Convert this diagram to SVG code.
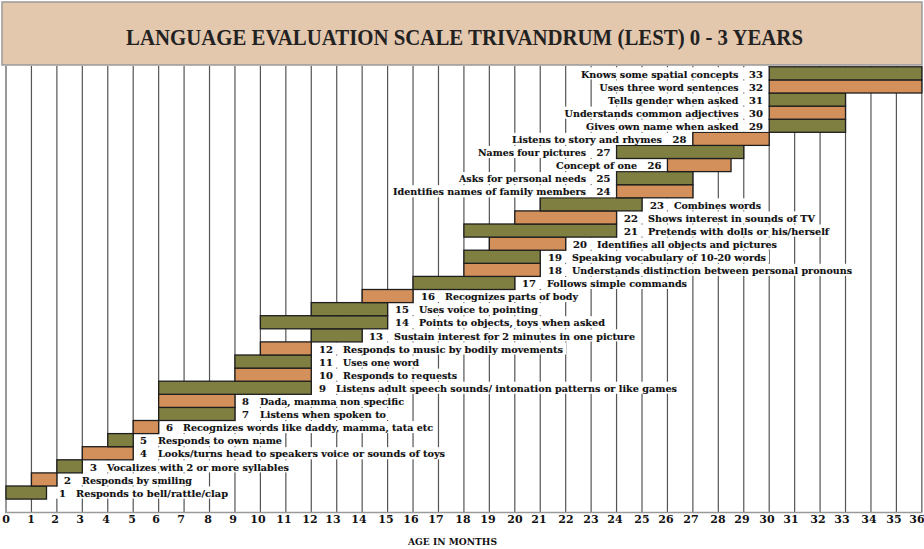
<svg xmlns="http://www.w3.org/2000/svg" width="924" height="549" viewBox="0 0 924 549">
<style>
.bg{fill:#ffffff}
.g{fill:#807f42;stroke:#1e1e1e;stroke-width:1.3}
.o{fill:#d4905a;stroke:#1e1e1e;stroke-width:1.3}
.grid line{stroke:#555555;stroke-width:1.2}
.lb{font-family:"DejaVu Serif",serif;font-weight:bold;font-size:10px;fill:#111;stroke:#111;stroke-width:0.15}
.n{font-family:"DejaVu Serif",serif;font-weight:bold;font-size:10px;fill:#111;stroke:#111;stroke-width:0.15}
.nl{font-family:"DejaVu Serif",serif;font-weight:bold;font-size:10px;fill:#111;stroke:#111;stroke-width:0.15;text-anchor:end}
.tk{font-family:"DejaVu Serif",serif;font-weight:bold;font-size:11px;fill:#111;text-anchor:middle}
.ttl{font-family:"Liberation Serif",serif;font-weight:bold;font-size:23px;fill:#222}
</style>
<rect width="924" height="549" fill="#ffffff"/>
<g id="title">
<rect x="2" y="2" width="920" height="63" fill="#e4c8ae" stroke="#9a9a9a" stroke-width="1.5"/>
<text class="ttl" x="126" y="45" textLength="677" lengthAdjust="spacingAndGlyphs">LANGUAGE EVALUATION SCALE TRIVANDRUM (LEST) 0 - 3 YEARS</text>
</g>
<g id="grid" class="grid">
<line x1="6" y1="66" x2="6" y2="512"/><line x1="31.44" y1="66" x2="31.44" y2="512"/><line x1="56.88" y1="66" x2="56.88" y2="512"/><line x1="82.32" y1="66" x2="82.32" y2="512"/><line x1="107.76" y1="66" x2="107.76" y2="512"/><line x1="133.2" y1="66" x2="133.2" y2="512"/><line x1="158.64" y1="66" x2="158.64" y2="512"/><line x1="184.08" y1="66" x2="184.08" y2="512"/><line x1="209.52" y1="66" x2="209.52" y2="512"/><line x1="234.96" y1="66" x2="234.96" y2="512"/><line x1="260.4" y1="66" x2="260.4" y2="512"/><line x1="285.84" y1="66" x2="285.84" y2="512"/><line x1="311.28" y1="66" x2="311.28" y2="512"/><line x1="336.72" y1="66" x2="336.72" y2="512"/><line x1="362.16" y1="66" x2="362.16" y2="512"/><line x1="387.6" y1="66" x2="387.6" y2="512"/><line x1="413.04" y1="66" x2="413.04" y2="512"/><line x1="438.48" y1="66" x2="438.48" y2="512"/><line x1="463.92" y1="66" x2="463.92" y2="512"/><line x1="489.36" y1="66" x2="489.36" y2="512"/><line x1="514.8" y1="66" x2="514.8" y2="512"/><line x1="540.24" y1="66" x2="540.24" y2="512"/><line x1="565.68" y1="66" x2="565.68" y2="512"/><line x1="591.12" y1="66" x2="591.12" y2="512"/><line x1="616.56" y1="66" x2="616.56" y2="512"/><line x1="642" y1="66" x2="642" y2="512"/><line x1="667.44" y1="66" x2="667.44" y2="512"/><line x1="692.88" y1="66" x2="692.88" y2="512"/><line x1="718.32" y1="66" x2="718.32" y2="512"/><line x1="743.76" y1="66" x2="743.76" y2="512"/><line x1="769.2" y1="66" x2="769.2" y2="512"/><line x1="794.64" y1="66" x2="794.64" y2="512"/><line x1="820.08" y1="66" x2="820.08" y2="512"/><line x1="845.52" y1="66" x2="845.52" y2="512"/><line x1="870.96" y1="66" x2="870.96" y2="512"/><line x1="896.4" y1="66" x2="896.4" y2="512"/><line x1="921.84" y1="66" x2="921.84" y2="512"/>
<line x1="5" y1="512.5" x2="922.5" y2="512.5" style="stroke:#9a9a9a;stroke-width:1.5"/>
</g>
<g id="axis">
<text class="tk" x="6" y="522.5">0</text><text class="tk" x="31" y="522.5">1</text><text class="tk" x="55" y="522.5">2</text><text class="tk" x="80" y="522.5">3</text><text class="tk" x="106" y="522.5">4</text><text class="tk" x="132" y="522.5">5</text><text class="tk" x="156" y="522.5">6</text><text class="tk" x="181" y="522.5">7</text><text class="tk" x="208" y="522.5">8</text><text class="tk" x="233" y="522.5">9</text><text class="tk" x="258" y="522.5">10</text><text class="tk" x="284" y="522.5">11</text><text class="tk" x="310" y="522.5">12</text><text class="tk" x="333" y="522.5">13</text><text class="tk" x="359" y="522.5">14</text><text class="tk" x="386" y="522.5">15</text><text class="tk" x="411" y="522.5">16</text><text class="tk" x="436" y="522.5">17</text><text class="tk" x="463" y="522.5">18</text><text class="tk" x="488" y="522.5">19</text><text class="tk" x="515" y="522.5">20</text><text class="tk" x="539" y="522.5">21</text><text class="tk" x="566" y="522.5">22</text><text class="tk" x="591" y="522.5">23</text><text class="tk" x="615" y="522.5">24</text><text class="tk" x="642" y="522.5">25</text><text class="tk" x="666" y="522.5">26</text><text class="tk" x="691" y="522.5">27</text><text class="tk" x="718" y="522.5">28</text><text class="tk" x="742" y="522.5">29</text><text class="tk" x="767" y="522.5">30</text><text class="tk" x="791" y="522.5">31</text><text class="tk" x="818" y="522.5">32</text><text class="tk" x="842" y="522.5">33</text><text class="tk" x="869" y="522.5">34</text><text class="tk" x="894" y="522.5">35</text><text class="tk" x="917" y="522.5">36</text>
<text x="408" y="545" style="font-family:'DejaVu Serif',serif;font-weight:bold;font-size:9.5px;fill:#111" textLength="89" lengthAdjust="spacingAndGlyphs">AGE IN MONTHS</text>
</g>
<g id="connectors"></g>
<g id="m1"><rect class="bg" x="56" y="486.5" width="175" height="12.1"/><rect class="g" x="6" y="486" width="40.5" height="13.1"/><text class="n" x="59" y="496.7">1</text><text class="lb" x="76" y="496.7" textLength="152" lengthAdjust="spacingAndGlyphs">Responds to bell/rattle/clap</text></g>
<g id="m2"><rect class="bg" x="61" y="473.4" width="134" height="12.1"/><rect class="o" x="31.44" y="472.9" width="25.44" height="13.1"/><text class="n" x="64" y="483.6">2</text><text class="lb" x="82" y="483.6" textLength="110" lengthAdjust="spacingAndGlyphs">Responds by smiling</text></g>
<g id="m3"><rect class="bg" x="87" y="460.3" width="205" height="12.1"/><rect class="g" x="56.88" y="459.8" width="25.44" height="13.1"/><text class="n" x="90" y="470.5">3</text><text class="lb" x="107" y="470.5" textLength="182" lengthAdjust="spacingAndGlyphs">Vocalizes with 2 or more syllables</text></g>
<g id="m4"><rect class="bg" x="137" y="447.2" width="311" height="12.1"/><rect class="o" x="82.32" y="446.7" width="50.88" height="13.1"/><text class="n" x="140" y="457.4">4</text><text class="lb" x="158" y="457.4" textLength="287" lengthAdjust="spacingAndGlyphs">Looks/turns head to speakers voice or sounds of toys</text></g>
<g id="m5"><rect class="bg" x="137" y="434.1" width="148" height="12.1"/><rect class="g" x="107.76" y="433.6" width="25.44" height="13.1"/><text class="n" x="140" y="444.3">5</text><text class="lb" x="158" y="444.3" textLength="124" lengthAdjust="spacingAndGlyphs">Responds to own name</text></g>
<g id="m6"><rect class="bg" x="163" y="421" width="273" height="12.1"/><rect class="o" x="133.2" y="420.5" width="25.44" height="13.1"/><text class="n" x="166" y="431.2">6</text><text class="lb" x="183" y="431.2" textLength="250" lengthAdjust="spacingAndGlyphs">Recognizes words like daddy, mamma, tata etc</text></g>
<g id="m7"><rect class="bg" x="239" y="407.9" width="150" height="12.1"/><rect class="g" x="158.64" y="407.4" width="76.32" height="13.1"/><text class="n" x="242" y="418.1">7</text><text class="lb" x="260" y="418.1" textLength="126" lengthAdjust="spacingAndGlyphs">Listens when spoken to</text></g>
<g id="m8"><rect class="bg" x="239" y="394.8" width="168" height="12.1"/><rect class="o" x="158.64" y="394.3" width="76.32" height="13.1"/><text class="n" x="242" y="405">8</text><text class="lb" x="260" y="405" textLength="144" lengthAdjust="spacingAndGlyphs">Dada, mamma non specific</text></g>
<g id="m9"><rect class="bg" x="316" y="381.7" width="364" height="12.1"/><rect class="g" x="158.64" y="381.2" width="152.64" height="13.1"/><text class="n" x="319" y="391.9">9</text><text class="lb" x="336" y="391.9" textLength="341" lengthAdjust="spacingAndGlyphs">Listens adult speech sounds/ intonation patterns or like games</text></g>
<g id="m10"><rect class="bg" x="316" y="368.6" width="144" height="12.1"/><rect class="o" x="234.96" y="368.1" width="76.32" height="13.1"/><text class="n" x="319" y="378.8">10</text><text class="lb" x="343" y="378.8" textLength="114" lengthAdjust="spacingAndGlyphs">Responds to requests</text></g>
<g id="m11"><rect class="bg" x="316" y="355.5" width="106" height="12.1"/><rect class="g" x="234.96" y="355" width="76.32" height="13.1"/><text class="n" x="319" y="365.7">11</text><text class="lb" x="343" y="365.7" textLength="76" lengthAdjust="spacingAndGlyphs">Uses one word</text></g>
<g id="m12"><rect class="bg" x="316" y="342.4" width="250" height="12.1"/><rect class="o" x="260.4" y="341.9" width="50.88" height="13.1"/><text class="n" x="319" y="352.6">12</text><text class="lb" x="343" y="352.6" textLength="220" lengthAdjust="spacingAndGlyphs">Responds to music by bodily movements</text></g>
<g id="m13"><rect class="bg" x="366" y="329.3" width="272" height="12.1"/><rect class="g" x="311.28" y="328.8" width="50.88" height="13.1"/><text class="n" x="369" y="339.5">13</text><text class="lb" x="394" y="339.5" textLength="241" lengthAdjust="spacingAndGlyphs">Sustain interest for 2 minutes in one picture</text></g>
<g id="m14"><rect class="bg" x="392" y="316.2" width="216" height="12.1"/><rect class="g" x="260.4" y="315.7" width="127.2" height="13.1"/><text class="n" x="395" y="326.4">14</text><text class="lb" x="419" y="326.4" textLength="186" lengthAdjust="spacingAndGlyphs">Points to objects, toys when asked</text></g>
<g id="m15"><rect class="bg" x="392" y="303.1" width="149" height="12.1"/><rect class="g" x="311.28" y="302.6" width="76.32" height="13.1"/><text class="n" x="395" y="313.3">15</text><text class="lb" x="419" y="313.3" textLength="119" lengthAdjust="spacingAndGlyphs">Uses voice to pointing</text></g>
<g id="m16"><rect class="bg" x="418" y="290" width="163" height="12.1"/><rect class="o" x="362.16" y="289.5" width="50.88" height="13.1"/><text class="n" x="421" y="300.2">16</text><text class="lb" x="445" y="300.2" textLength="133" lengthAdjust="spacingAndGlyphs">Recognizes parts of body</text></g>
<g id="m17"><rect class="bg" x="519" y="276.9" width="171" height="12.1"/><rect class="g" x="413.04" y="276.4" width="101.76" height="13.1"/><text class="n" x="522" y="287.1">17</text><text class="lb" x="547" y="287.1" textLength="140" lengthAdjust="spacingAndGlyphs">Follows simple commands</text></g>
<g id="m18"><rect class="bg" x="545" y="263.8" width="310" height="12.1"/><rect class="o" x="463.92" y="263.3" width="76.32" height="13.1"/><text class="n" x="548" y="274">18</text><text class="lb" x="572" y="274" textLength="280" lengthAdjust="spacingAndGlyphs">Understands distinction between personal pronouns</text></g>
<g id="m19"><rect class="bg" x="545" y="250.7" width="224" height="12.1"/><rect class="g" x="463.92" y="250.2" width="76.32" height="13.1"/><text class="n" x="548" y="260.9">19</text><text class="lb" x="572" y="260.9" textLength="194" lengthAdjust="spacingAndGlyphs">Speaking vocabulary of 10-20 words</text></g>
<g id="m20"><rect class="bg" x="570" y="237.6" width="210" height="12.1"/><rect class="o" x="489.36" y="237.1" width="76.32" height="13.1"/><text class="n" x="573" y="247.8">20</text><text class="lb" x="597" y="247.8" textLength="180" lengthAdjust="spacingAndGlyphs">Identifies all objects and pictures</text></g>
<g id="m21"><rect class="bg" x="621" y="224.5" width="211" height="12.1"/><rect class="g" x="463.92" y="224" width="152.64" height="13.1"/><text class="n" x="624" y="234.7">21</text><text class="lb" x="648" y="234.7" textLength="181" lengthAdjust="spacingAndGlyphs">Pretends with dolls or his/herself</text></g>
<g id="m22"><rect class="bg" x="621" y="211.4" width="197" height="12.1"/><rect class="o" x="514.8" y="210.9" width="101.76" height="13.1"/><text class="n" x="624" y="221.6">22</text><text class="lb" x="648" y="221.6" textLength="167" lengthAdjust="spacingAndGlyphs">Shows interest in sounds of TV</text></g>
<g id="m23"><rect class="bg" x="647" y="198.3" width="117" height="12.1"/><rect class="g" x="540.24" y="197.8" width="101.76" height="13.1"/><text class="n" x="650" y="208.5">23</text><text class="lb" x="674" y="208.5" textLength="87" lengthAdjust="spacingAndGlyphs">Combines words</text></g>
<g id="m24"><rect class="bg" x="390" y="185.2" width="226" height="12.1"/><rect class="o" x="616.56" y="184.7" width="76.32" height="13.1"/><text class="lb" x="393" y="195.4" textLength="193" lengthAdjust="spacingAndGlyphs">Identifies names of family members</text><text class="nl" x="610.5" y="195.4">24</text></g>
<g id="m25"><rect class="bg" x="456" y="172.1" width="160" height="12.1"/><rect class="g" x="616.56" y="171.6" width="76.32" height="13.1"/><text class="lb" x="459" y="182.3" textLength="127" lengthAdjust="spacingAndGlyphs">Asks for personal needs</text><text class="nl" x="610.5" y="182.3">25</text></g>
<g id="m26"><rect class="bg" x="553" y="159" width="114" height="12.1"/><rect class="o" x="667.44" y="158.5" width="63.6" height="13.1"/><text class="lb" x="556" y="169.2" textLength="81" lengthAdjust="spacingAndGlyphs">Concept of one</text><text class="nl" x="661.5" y="169.2">26</text></g>
<g id="m27"><rect class="bg" x="475" y="145.9" width="141" height="12.1"/><rect class="g" x="616.56" y="145.4" width="127.2" height="13.1"/><text class="lb" x="478" y="156.1" textLength="108" lengthAdjust="spacingAndGlyphs">Names four pictures</text><text class="nl" x="610.5" y="156.1">27</text></g>
<g id="m28"><rect class="bg" x="509" y="132.8" width="183" height="12.1"/><rect class="o" x="692.88" y="132.3" width="76.32" height="13.1"/><text class="lb" x="512" y="143" textLength="150" lengthAdjust="spacingAndGlyphs">Listens to story and rhymes</text><text class="nl" x="686.5" y="143">28</text></g>
<g id="m29"><rect class="bg" x="583" y="119.7" width="186" height="12.1"/><rect class="g" x="769.2" y="119.2" width="76.32" height="13.1"/><text class="lb" x="586" y="129.9" textLength="152.5" lengthAdjust="spacingAndGlyphs">Gives own name when asked</text><text class="nl" x="763" y="129.9">29</text></g>
<g id="m30"><rect class="bg" x="561.5" y="106.6" width="207.5" height="12.1"/><rect class="o" x="769.2" y="106.1" width="76.32" height="13.1"/><text class="lb" x="564.6" y="116.8" textLength="174" lengthAdjust="spacingAndGlyphs">Understands common adjectives</text><text class="nl" x="763" y="116.8">30</text></g>
<g id="m31"><rect class="bg" x="605" y="93.5" width="164" height="12.1"/><rect class="g" x="769.2" y="93" width="76.32" height="13.1"/><text class="lb" x="608" y="103.7" textLength="130.5" lengthAdjust="spacingAndGlyphs">Tells gender when asked</text><text class="nl" x="763" y="103.7">31</text></g>
<g id="m32"><rect class="bg" x="596.5" y="80.4" width="172.5" height="12.1"/><rect class="o" x="769.2" y="79.9" width="152.64" height="13.1"/><text class="lb" x="599.6" y="90.6" textLength="139" lengthAdjust="spacingAndGlyphs">Uses three word sentences</text><text class="nl" x="763" y="90.6">32</text></g>
<g id="m33"><rect class="bg" x="578" y="67.3" width="191" height="12.1"/><rect class="g" x="769.2" y="66.8" width="152.64" height="13.1"/><text class="lb" x="581" y="77.5" textLength="157.5" lengthAdjust="spacingAndGlyphs">Knows some spatial concepts</text><text class="nl" x="763" y="77.5">33</text></g>
</svg>
